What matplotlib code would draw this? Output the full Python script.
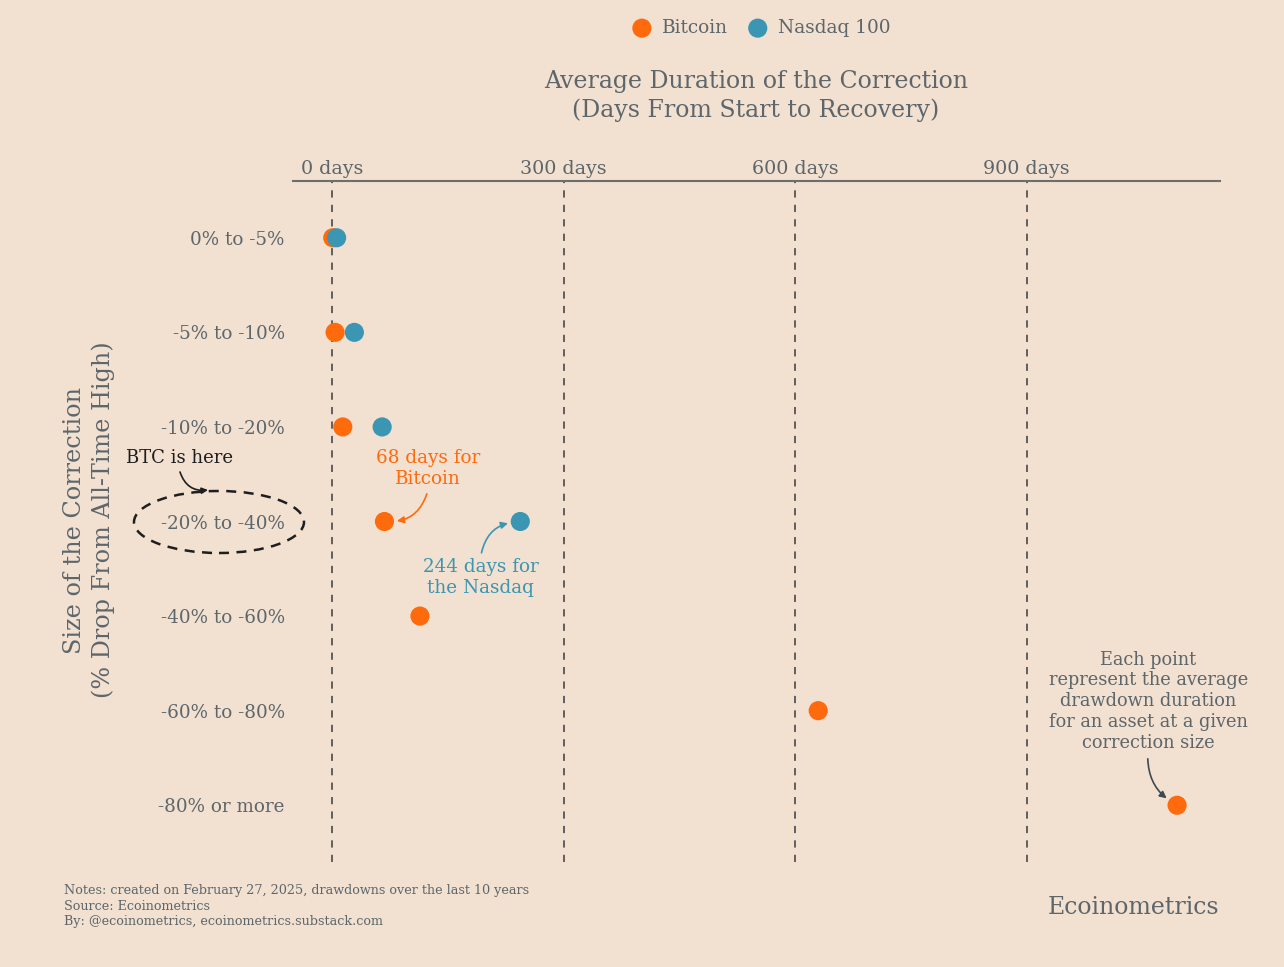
import matplotlib.pyplot as plt
from matplotlib.patches import Ellipse
import numpy as np

# data
categories = ["0% to -5%", "-5% to -10%", "-10% to -20%", "-20% to -40%",
              "-40% to -60%", "-60% to -80%", "-80% or more"]
bitcoin_days = [1, 4, 14, 68, 114, 630, 1095]
nasdaq_days = [6, 29, 65, 244, np.nan, np.nan, np.nan]
xticks = [0, 300, 600, 900]
xtick_labels = ["0 days", "300 days", "600 days", "900 days"]

bg = "#F2E0D0"
orange = "#FF6A0D"
blue = "#3A96B2"
grey = "#5C666B"

plt.rcParams['font.family'] = ['DejaVu Serif']

fig = plt.figure(figsize=(12.84, 9.67), dpi=100)
fig.patch.set_facecolor(bg)
ax = fig.add_axes([0.2282, 0.1086, 0.722, 0.7042])
ax.set_facecolor(bg)

ypos = np.arange(len(categories))

for x in xticks:
    ax.axvline(x, color="#555555", lw=1.3, linestyle=(0, (4, 4)), zorder=1)

ax.scatter(bitcoin_days, ypos, s=190, color=orange, zorder=3, label="Bitcoin", edgecolors="none")
ax.scatter(nasdaq_days, ypos, s=190, color=blue, zorder=4, label="Nasdaq 100", edgecolors="none")

ax.set_xlim(-50.5, 1150.7)
ax.set_ylim(6.6, -0.6)
ax.xaxis.tick_top()
ax.set_xticks(xticks)
ax.set_xticklabels(xtick_labels, fontsize=13.7, color=grey)
ax.set_yticks(ypos)
ax.set_yticklabels(categories, fontsize=13.2, color=grey)
ax.tick_params(axis="both", length=0)
ax.tick_params(axis="x", pad=2)
ax.tick_params(axis="y", pad=6)
for s in ["left", "right", "bottom"]:
    ax.spines[s].set_visible(False)
ax.spines["top"].set_color("#6E6E6E")
ax.spines["top"].set_linewidth(1.5)

# annotations
ax.text(124, 2.44, "68 days for\nBitcoin", color=orange, fontsize=13.2, ha="center", va="center",
        linespacing=1.2)
ax.annotate("", xy=(bitcoin_days[3], 3), xytext=(124, 2.68),
            arrowprops=dict(arrowstyle="-|>", color=orange, lw=1.2, mutation_scale=10,
                            connectionstyle="arc3,rad=-0.4", shrinkB=9))
ax.text(193, 3.59, "244 days for\nthe Nasdaq", color=blue, fontsize=13.2, ha="center", va="center",
        linespacing=1.2)
ax.annotate("", xy=(nasdaq_days[3], 3), xytext=(193, 3.36),
            arrowprops=dict(arrowstyle="-|>", color=blue, lw=1.2, mutation_scale=10,
                            connectionstyle="arc3,rad=-0.4", shrinkB=9))
ax.text(1058, 4.9, "Each point\nrepresent the average\ndrawdown duration\nfor an asset at a given\ncorrection size",
        color=grey, fontsize=12.8, ha="center", va="center", linespacing=1.2)
ax.annotate("", xy=(bitcoin_days[6], 6), xytext=(1057, 5.48),
            arrowprops=dict(arrowstyle="-|>", color="#3F4A50", lw=1.2, mutation_scale=10,
                            connectionstyle="arc3,rad=0.3", shrinkB=9))

# "BTC is here" call-out, outside the axes
fig.text(180 / 1284, 1 - 458 / 967, "BTC is here", color="#1E1E1E", fontsize=13,
         ha="center", va="center")
fig.add_artist(Ellipse((219 / 1284, 1 - 522 / 967), 170 / 1284, 62 / 967,
                       transform=fig.transFigure, fill=False, edgecolor="#1E1E1E",
                       lw=1.8, linestyle=(0, (4, 3))))
ax.annotate("", xy=(208 / 1284, 1 - 490 / 967), xytext=(180 / 1284, 1 - 472 / 967),
            xycoords="figure fraction", textcoords="figure fraction",
            arrowprops=dict(arrowstyle="-|>", color="#1E1E1E", lw=1.2, mutation_scale=9,
                            connectionstyle="arc3,rad=0.4", shrinkA=0, shrinkB=0),
            annotation_clip=False)

# titles
fig.text(756 / 1284, 1 - 96 / 967, "Average Duration of the Correction\n(Days From Start to Recovery)",
         ha="center", va="center", fontsize=17, color=grey, linespacing=1.3)
fig.text(89 / 1284, 1 - 520 / 967, "Size of the Correction\n(% Drop From All-Time High)",
         ha="center", va="center", rotation=90, fontsize=17.2, color=grey, linespacing=1.3)

leg = fig.legend(loc="center", bbox_to_anchor=(757 / 1284, 1 - 28 / 967), ncol=2, frameon=False,
                 fontsize=13.3, handletextpad=0.1, columnspacing=0.6, markerscale=1.0)
for t in leg.get_texts():
    t.set_color(grey)

fig.text(64 / 1284, 1 - 884 / 967,
         "Notes: created on February 27, 2025, drawdowns over the last 10 years\n"
         "Source: Ecoinometrics\nBy: @ecoinometrics, ecoinometrics.substack.com",
         ha="left", va="top", fontsize=9.2, color=grey, linespacing=1.25)
fig.text(1219 / 1284, 1 - 908 / 967, "Ecoinometrics", ha="right", va="center",
         fontsize=17, color=grey)

fig.savefig("out.png", dpi=100, facecolor=bg)
